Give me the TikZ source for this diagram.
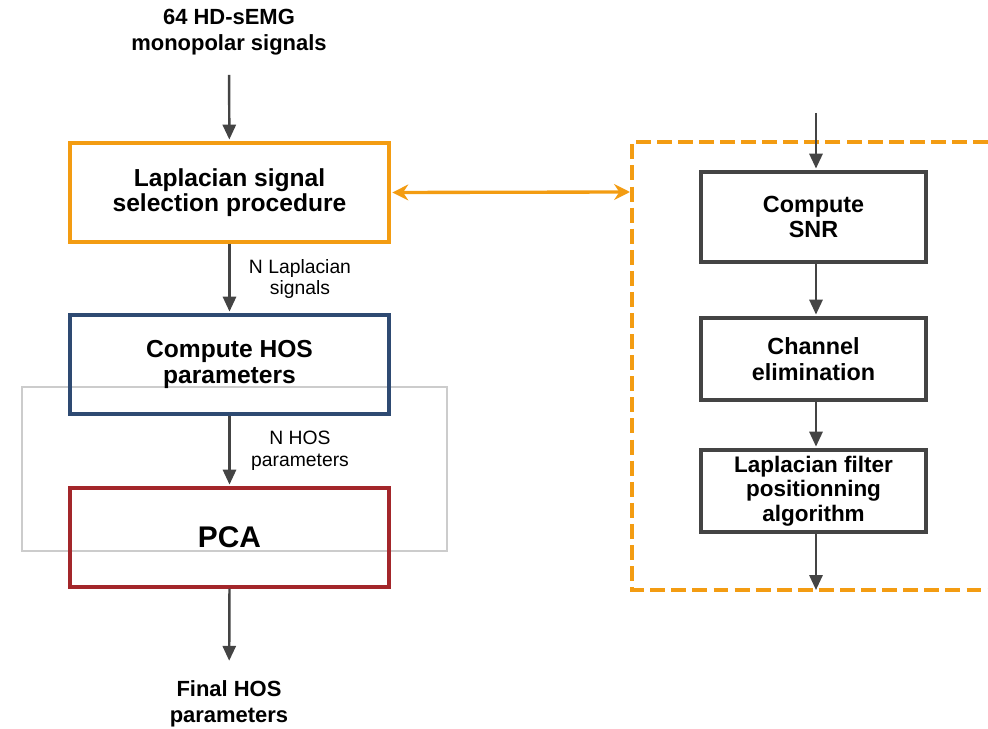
\documentclass[tikz,border=0pt]{standalone}
\usepackage{fontspec}
\setmainfont{Liberation Sans}
\usetikzlibrary{arrows.meta}

\definecolor{lapor}{HTML}{F39C12}
\definecolor{hosblue}{HTML}{2E4A72}
\definecolor{pcared}{HTML}{A3262A}
\definecolor{stepgrey}{HTML}{444444}
\definecolor{ghost}{HTML}{CCCCCC}

\tikzset{
  mainbox/.style={draw, line width=1.9pt, minimum width=6.38cm, minimum height=1.98cm,
    align=center, font=\bfseries\fontsize{14}{14.5}\selectfont},
  stepbox/.style={draw=stepgrey, line width=1.9pt, minimum width=4.5cm,
    align=center, font=\bfseries\fontsize{13.3}{14.5}\selectfont},
  ioText/.style={align=center, font=\bfseries\fontsize{12.5}{14.5}\selectfont},
  lbl/.style={align=center, font=\fontsize{11}{12.5}\selectfont},
  arr/.style={draw=stepgrey, line width=1.4pt, -{Triangle[length=8.5pt,width=7.5pt]}}
}

\begin{document}
\begin{tikzpicture}[x=0.02cm,y=-0.02cm]
				\useasboundingbox (0,0) rectangle (988,729);
				% stray grey frame behind the left column
				\draw[ghost, line width=0.6pt] (22,387) rectangle (447,551);
				% left column
				\node[ioText] (in) at (229,32) {64 HD-sEMG\\monopolar signals};
				\node[mainbox, draw=lapor] (lap) at (229.5,192.5) {Laplacian signal\\selection procedure};
				\node[mainbox, draw=hosblue] (hos) at (229.5,364.5) {Compute HOS\\parameters};
				\node[mainbox, draw=pcared, font=\bfseries\fontsize{17}{18}\selectfont] (pca) at (229.5,537.5) {PCA};
				\node[ioText] (out) at (229,704) {Final HOS\\parameters};
				\draw[arr, shorten <=8pt, shorten >=1pt] (in) -- (lap);
				\draw[arr, shorten >=1pt] (lap) -- (hos);
				\draw[arr, shorten >=1pt] (hos) -- (pca.north);
				\draw[arr, shorten >=8pt] (pca.south) -- (out);
				\node[lbl] (nlap) at (300,279) {N Laplacian\\signals};
				\node[lbl] (nhos) at (300,451) {N HOS\\parameters};
				% right column, inside the dashed frame
				\draw[lapor, line width=2.2pt, dash pattern=on 8.5pt off 3.5pt] (988,142) -- (632,142) -- (632,590) -- (988,590);
				\coordinate (rin) at (816,113);
				\coordinate (rout) at (816,590);
				\coordinate (frame) at (630,192);
				\node[stepbox, minimum height=1.8cm] (snr) at (813.5,217) {Compute\\SNR};
				\node[stepbox, minimum height=1.64cm] (elim) at (813.5,359) {Channel\\elimination};
				\node[stepbox, minimum height=1.6cm, font=\bfseries\fontsize{12.8}{14}\selectfont] (lpos) at (813.5,491) {Laplacian filter\\positionning\\algorithm};
				\draw[arr, shorten >=1pt] (rin) -- (snr.north -| rin);
				\draw[arr, shorten >=1pt] (snr.south -| rin) -- (elim.north -| rin);
				\draw[arr, shorten >=1pt] (elim.south -| rin) -- (lpos.north -| rin);
				\draw[arr] (lpos.south -| rin) -- (rout);
				% link between the selection box and its detail
				\draw[lapor, line width=1.9pt, {Stealth[length=9pt,width=9pt]}-{Stealth[length=9pt,width=9pt]}, shorten <=1pt] (lap.east) -- (frame);
			\end{tikzpicture}
\end{document}
